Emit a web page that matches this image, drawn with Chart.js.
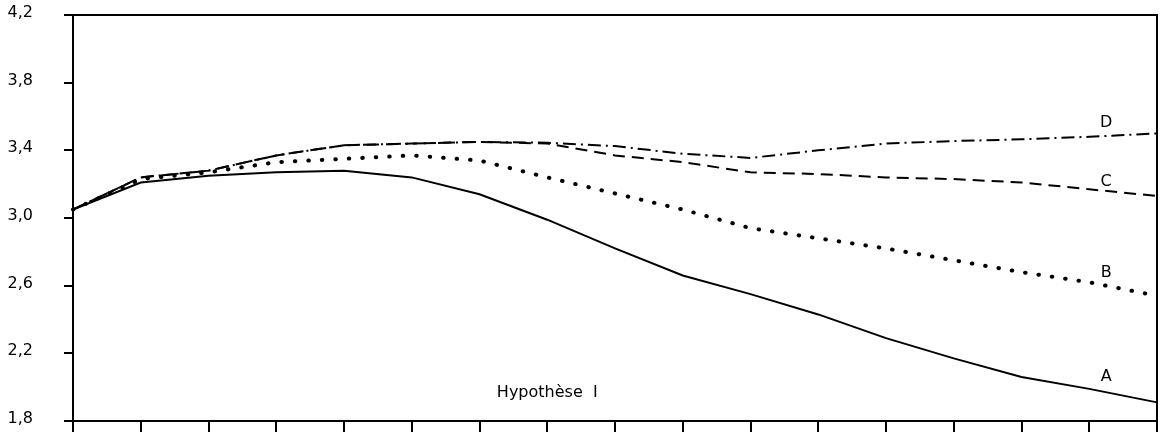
<!DOCTYPE html>
<html>
<head>
<meta charset="utf-8">
<script src="https://cdn.jsdelivr.net/npm/chart.js@4"></script>
<style>
  html, body { margin: 0; padding: 0; background: #fff; }
  #wrap { width: 1166px; height: 434px; }
</style>
</head>
<body>
<div id="wrap"><canvas id="c" width="1166" height="434"></canvas></div>
<script>
const categories = ['0','1','2','3','4','5','6','7','8','9','10','11','12','13','14','15','16'];
const seriesA = [3.05, 3.21, 3.25, 3.27, 3.28, 3.24, 3.14, 2.99, 2.82, 2.66, 2.55, 2.43, 2.29, 2.17, 2.06, 1.99, 1.91];
const seriesB = [3.05, 3.23, 3.27, 3.33, 3.35, 3.37, 3.34, 3.24, 3.145, 3.05, 2.94, 2.88, 2.82, 2.75, 2.68, 2.62, 2.54];
const seriesC = [3.05, 3.24, 3.28, 3.37, 3.43, 3.44, 3.45, 3.44, 3.37, 3.33, 3.27, 3.26, 3.24, 3.23, 3.21, 3.17, 3.13];
const seriesD = [3.05, 3.24, 3.28, 3.37, 3.43, 3.44, 3.45, 3.445, 3.425, 3.38, 3.355, 3.40, 3.44, 3.455, 3.465, 3.48, 3.50];
const yTicks = [1.8, 2.2, 2.6, 3.0, 3.4, 3.8, 4.2];
const yTickLabels = ['1,8', '2,2', '2,6', '3,0', '3,4', '3,8', '4,2'];
const seriesNames = ['A', 'B', 'C', 'D'];
const chartTitle = 'Hypothèse  I';

const FONT = "'DejaVu Sans', sans-serif";

const textPlugin = {
  id: 'frameAndText',
  afterDraw(chart) {
    const { ctx, chartArea: a, scales } = chart;
    ctx.save();
    ctx.strokeStyle = '#000';
    ctx.lineWidth = 2;
    ctx.beginPath();
    ctx.moveTo(a.left - 9, a.top);
    ctx.lineTo(a.right, a.top);
    ctx.lineTo(a.right, a.bottom);
    ctx.stroke();
    ctx.fillStyle = '#000';
    ctx.textAlign = 'center';
    ctx.textBaseline = 'middle';
    ctx.font = '16px ' + FONT;
    const lx = scales.x.getPixelForValue(15.25);
    const labelY = [2.06, 2.675, 3.215, 3.56];
    seriesNames.forEach((n, i) => {
      ctx.fillText(n, lx, scales.y.getPixelForValue(labelY[i]));
    });
    ctx.font = '16px ' + FONT;
    ctx.fillText(chartTitle, scales.x.getPixelForValue(7.0), scales.y.getPixelForValue(1.965));
    ctx.restore();
  }
};

new Chart(document.getElementById('c'), {
  type: 'line',
  data: {
    labels: categories,
    datasets: [
      { label: 'A', data: seriesA, borderColor: '#000', borderWidth: 2, pointRadius: 0, tension: 0, fill: false },
      { label: 'B', data: seriesB, borderColor: '#000', borderWidth: 4, borderCapStyle: 'round', borderDash: [0.5, 13], pointRadius: 0, tension: 0, fill: false },
      { label: 'C', data: seriesC, borderColor: '#000', borderWidth: 2, borderDash: [12, 7], pointRadius: 0, tension: 0, fill: false },
      { label: 'D', data: seriesD, borderColor: '#000', borderWidth: 2, borderDash: [13, 5, 2, 5], pointRadius: 0, tension: 0, fill: false }
    ]
  },
  options: {
    responsive: false,
    animation: false,
    devicePixelRatio: 1,
    layout: { autoPadding: false, padding: { top: 15, right: 9, left: 0, bottom: 0 } },
    plugins: { legend: { display: false }, tooltip: { enabled: false } },
    scales: {
      x: {
        type: 'category',
        offset: false,
        grid: { display: true, drawOnChartArea: false, drawTicks: true, tickLength: 11, color: '#000', lineWidth: 2 },
        border: { display: true, color: '#000', width: 2 },
        ticks: { display: true, padding: 0, callback: () => '', autoSkip: false, maxRotation: 0, font: { size: 1 } },
        afterFit(s) { s.height = 13; s.paddingLeft = 0; s.paddingRight = 0; }
      },
      y: {
        min: 1.8,
        max: 4.2,
        afterBuildTicks(s) { s.ticks = yTicks.map(v => ({ value: v })); },
        grid: { display: true, drawOnChartArea: false, drawTicks: true, tickLength: 9, color: '#000', lineWidth: 2 },
        border: { display: true, color: '#000', width: 2 },
        ticks: {
          padding: 31,
          color: '#000',
          font: { family: FONT, size: 16 },
          labelOffset: -2,
          callback: (v, i) => yTickLabels[i]
        },
        afterFit(s) { s.width = 73; s.paddingTop = 0; s.paddingBottom = 0; }
      }
    }
  },
  plugins: [textPlugin]
});
</script>
</body>
</html>
